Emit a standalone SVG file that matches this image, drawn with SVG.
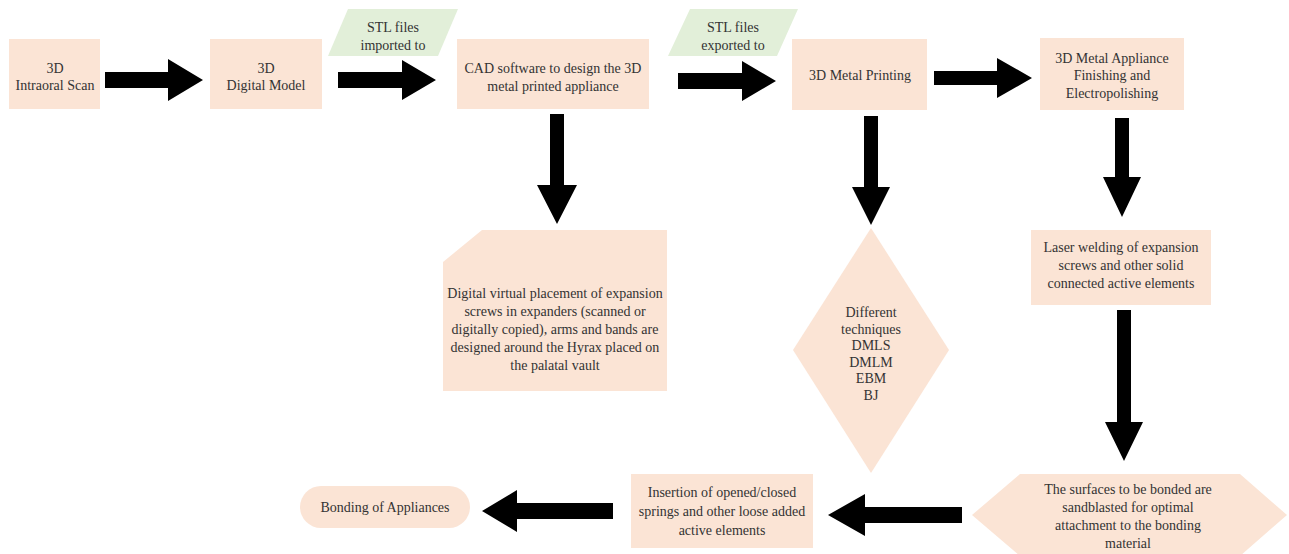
<svg xmlns="http://www.w3.org/2000/svg" width="1289" height="554" viewBox="0 0 1289 554">
<style>
.n{fill:#fbe4d5;}
.g{fill:#e2efd9;}
.t{font-family:"Liberation Serif","Times New Roman",serif;font-size:14px;fill:#333;text-anchor:middle;}
.a{fill:#000;}
</style>
<rect width="1289" height="554" fill="#fff"/>
<g id="connectors">
<polygon class="a" points="105,72 168,72 168,59 203,80 168,101 168,88 105,88"/>
<polygon class="a" points="338,72 402,72 402,60 436,80 402,100 402,88 338,88"/>
<polygon class="a" points="678,73 742,73 742,61 776,81 742,101 742,89 678,89"/>
<polygon class="a" points="934,71 997,71 997,58 1032,78 997,98 997,85 934,85"/>
<polygon class="a" points="962,507 865,507 865,494 828,515 865,536 865,523 962,523"/>
<polygon class="a" points="613,503 517,503 517,490 482,511 517,532 517,519 613,519"/>
<polygon class="a" points="550,114 564,114 564,185 577,185 557,224 537,185 550,185"/>
<polygon class="a" points="864,116 878,116 878,187 890,187 871,225 852,187 864,187"/>
<polygon class="a" points="1115,118 1129,118 1129,177 1141,177 1122,217 1103,177 1115,177"/>
<polygon class="a" points="1117,310 1131,310 1131,422 1143,422 1124,461 1105,422 1117,422"/>
</g>
<g id="n1"><rect class="n" x="9" y="39" width="91" height="70"/><text class="t" x="55" y="73">3D</text><text class="t" x="55" y="90">Intraoral Scan</text></g>
<g id="n2"><rect class="n" x="210" y="39" width="112" height="70"/><text class="t" x="266" y="73">3D</text><text class="t" x="266" y="90">Digital Model</text></g>
<g id="p1"><polygon class="g" points="348,9 458,9 438,56 328,56"/><text class="t" x="393" y="32">STL files</text><text class="t" x="393" y="50">imported to</text></g>
<g id="n3"><rect class="n" x="457" y="39" width="192" height="70"/><text class="t" x="553" y="73">CAD software to design the 3D</text><text class="t" x="553" y="91">metal printed appliance</text></g>
<g id="p2"><polygon class="g" points="690,9 798,9 777,56 668,56"/><text class="t" x="733" y="32">STL files</text><text class="t" x="733" y="50">exported to</text></g>
<g id="n4"><rect class="n" x="792" y="39" width="135" height="71"/><text class="t" x="860" y="80">3D Metal Printing</text></g>
<g id="n5"><rect class="n" x="1040" y="38" width="144" height="72"/><text class="t" x="1112" y="63">3D Metal Appliance</text><text class="t" x="1112" y="80">Finishing and</text><text class="t" x="1112" y="98">Electropolishing</text></g>
<g id="n6"><polygon class="n" points="482,230 667,230 667,391 443,391 443,262"/>
<text class="t" x="555" y="298">Digital virtual placement of expansion</text>
<text class="t" x="555" y="316">screws in expanders (scanned or</text>
<text class="t" x="555" y="334">digitally copied), arms and bands are</text>
<text class="t" x="555" y="352">designed around the Hyrax placed on</text>
<text class="t" x="555" y="370">the palatal vault</text></g>
<g id="n7"><polygon class="n" points="871,228 949,350 871,473 793,350"/>
<text class="t" x="871" y="317">Different</text>
<text class="t" x="871" y="334">techniques</text>
<text class="t" x="871" y="350">DMLS</text>
<text class="t" x="871" y="367">DMLM</text>
<text class="t" x="871" y="383">EBM</text>
<text class="t" x="871" y="400">BJ</text></g>
<g id="n8"><rect class="n" x="1031" y="230" width="180" height="75"/>
<text class="t" x="1121" y="252">Laser welding of expansion</text>
<text class="t" x="1121" y="270">screws and other solid</text>
<text class="t" x="1121" y="288">connected active elements</text></g>
<g id="n9"><polygon class="n" points="972,515 1020,474 1240,474 1287,515 1240,556 1020,556"/>
<text class="t" x="1128" y="494">The surfaces to be bonded are</text>
<text class="t" x="1128" y="512">sandblasted for optimal</text>
<text class="t" x="1128" y="530">attachment to the bonding</text>
<text class="t" x="1128" y="548">material</text></g>
<g id="n10"><rect class="n" x="631" y="474" width="182" height="74"/>
<text class="t" x="722" y="497">Insertion of opened/closed</text>
<text class="t" x="722" y="516">springs and other loose added</text>
<text class="t" x="722" y="535">active elements</text></g>
<g id="n11"><rect class="n" x="300" y="486" width="170" height="42" rx="21"/>
<text class="t" x="385" y="512">Bonding of Appliances</text></g>
</svg>
